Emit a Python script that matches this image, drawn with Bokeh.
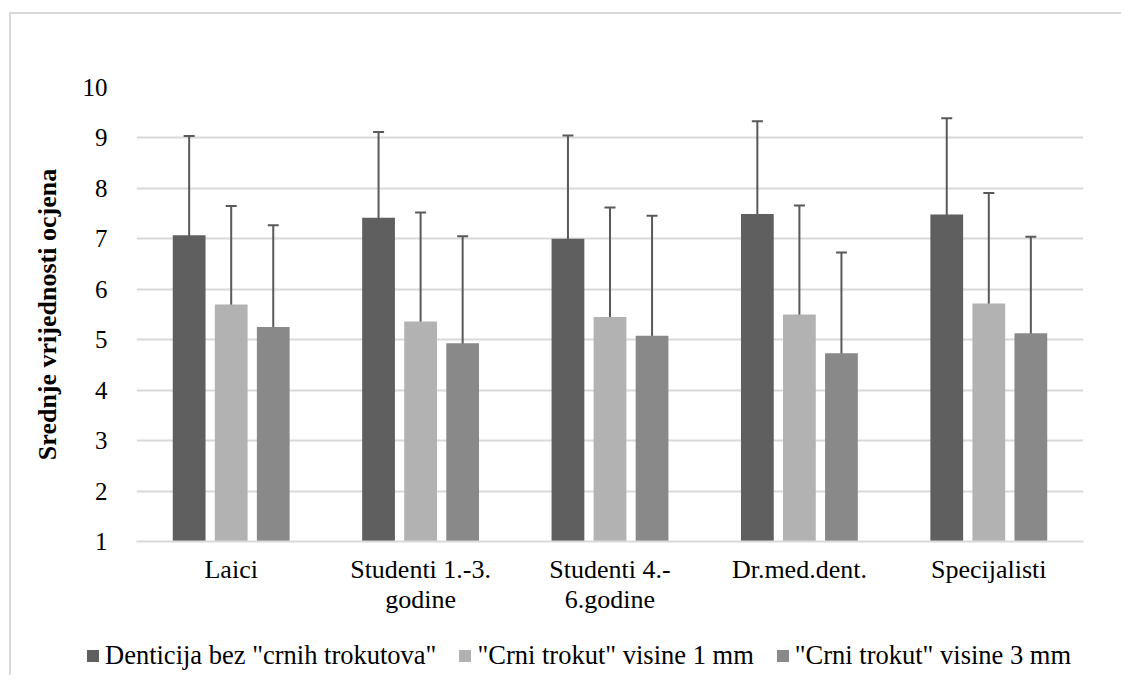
from bokeh.plotting import figure
from bokeh.layouts import column
from bokeh.models import (ColumnDataSource, FactorRange, Range1d, Whisker, TeeHead,
                          Legend, LegendItem, FixedTicker)
from bokeh.transform import dodge
from bokeh.embed import file_html
from bokeh.resources import INLINE

categories = ["Laici", "Studenti 1.-3.\ngodine", "Studenti 4.-\n6.godine", "Dr.med.dent.", "Specijalisti"]
series_names = ['Denticija bez "crnih trokutova"', '"Crni trokut" visine 1 mm', '"Crni trokut" visine 3 mm']

mean_none = [7.07, 7.42, 7.00, 7.49, 7.48]
sd_none = [1.97, 1.70, 2.05, 1.84, 1.91]
mean_1mm = [5.70, 5.36, 5.45, 5.50, 5.72]
sd_1mm = [1.95, 2.16, 2.17, 2.16, 2.19]
mean_3mm = [5.25, 4.93, 5.08, 4.73, 5.13]
sd_3mm = [2.02, 2.12, 2.38, 2.00, 1.91]

y_ticks = [1, 2, 3, 4, 5, 6, 7, 8, 9, 10]

colors = ["#5f5f5f", "#b2b2b2", "#898989"]
FONT = "Liberation Serif"
BORDER = "2px solid #d9d9d9"

p = figure(x_range=FactorRange(*categories), y_range=Range1d(1, 10),
           frame_width=945, frame_height=452,
           min_border_left=125, min_border_top=73, min_border_right=40, min_border_bottom=86,
           output_backend="svg", toolbar_location=None)
p.outline_line_color = None
p.frame_align = False
p.margin = (12, 0, 0, 9)
p.styles = {"border-left": BORDER, "border-top": BORDER}

# legend strip below the chart
lp = figure(width=1110, height=50, x_range=p.x_range, y_range=Range1d(0, 1),
            min_border=0, output_backend="svg", toolbar_location=None)
lp.frame_align = False
lp.margin = (0, 0, 0, 9)
lp.styles = {"border-left": BORDER}
lp.axis.visible = False
lp.grid.visible = False
lp.outline_line_color = None

series = [(mean_none, sd_none), (mean_1mm, sd_1mm), (mean_3mm, sd_3mm)]
offsets = [-0.222, 0.0, 0.222]
items = []
for (m, s), off, col, name in zip(series, offsets, colors, series_names):
    src = ColumnDataSource(dict(cats=categories, top=m,
                                upper=[a + b for a, b in zip(m, s)],
                                lower=[a - b for a, b in zip(m, s)]))
    p.vbar(x=dodge("cats", off, range=p.x_range), top="top", bottom=1, width=0.173,
           source=src, fill_color=col, line_color=None)
    w = Whisker(source=src, base=dodge("cats", off, range=p.x_range), upper="upper", lower="lower",
                line_color="#595959", line_width=2,
                upper_head=TeeHead(size=11, line_color="#595959", line_width=2),
                lower_head=TeeHead(size=11, line_color="#595959", line_width=2))
    p.add_layout(w)
    # legend proxy (not shown in the strip itself)
    r = lp.vbar(x=dodge("cats", off, range=p.x_range), top="top", bottom=1, width=0.173,
                source=src, fill_color=col, line_color=None, visible=False)
    items.append(LegendItem(label=name, renderers=[r]))

p.yaxis.ticker = FixedTicker(ticks=y_ticks)
p.ygrid.grid_line_color = "#d9d9d9"
p.ygrid.grid_line_width = 2
p.xgrid.grid_line_color = None

p.yaxis.axis_line_color = None
p.yaxis.major_tick_line_color = None
p.yaxis.minor_tick_line_color = None
p.yaxis.major_label_text_font = FONT
p.yaxis.major_label_text_font_size = "25px"
p.yaxis.major_label_text_color = "#000000"
p.yaxis.major_label_standoff = 23
p.yaxis.axis_label = "Srednje vrijednosti ocjena"
p.yaxis.axis_label_text_font = FONT
p.yaxis.axis_label_text_font_style = "bold"
p.yaxis.axis_label_text_font_size = "26px"
p.yaxis.axis_label_text_color = "#000000"
p.yaxis.axis_label_standoff = 18

p.xaxis.axis_line_color = "#d9d9d9"
p.xaxis.axis_line_width = 2
p.xaxis.major_tick_line_color = None
p.xaxis.minor_tick_line_color = None
p.xaxis.major_label_text_font = FONT
p.xaxis.major_label_text_font_size = "26px"
p.xaxis.major_label_text_color = "#000000"
p.xaxis.major_label_text_line_height = 1.05
p.xaxis.major_label_standoff = 7

legend = Legend(items=items, orientation="horizontal", location=(74, 4),
                label_text_font=FONT, label_text_font_size="26.5px", label_text_color="#000000",
                glyph_width=15, glyph_height=15, label_standoff=5, spacing=21,
                padding=0, margin=0, border_line_color=None, background_fill_alpha=0,
                inactive_fill_alpha=0)
lp.add_layout(legend, "center")

layout = column(p, lp, spacing=0)
open("out.html", "w").write(file_html(layout, INLINE))
